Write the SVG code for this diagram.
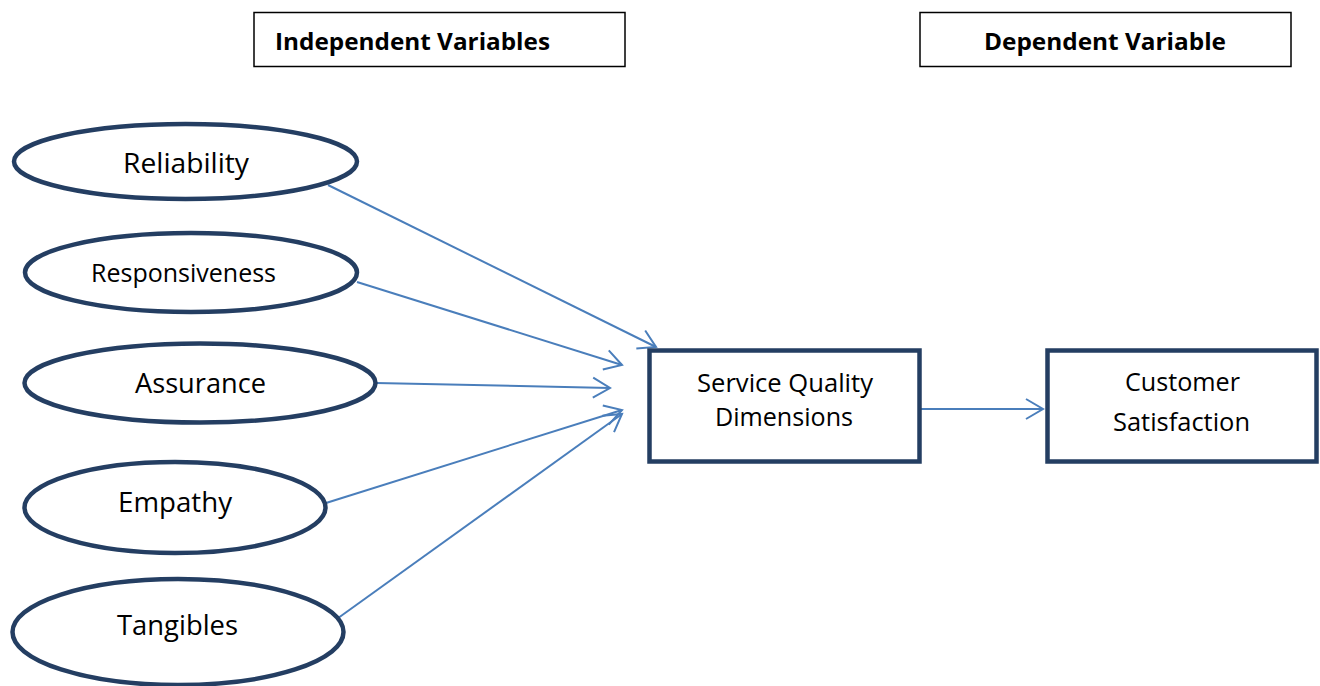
<svg xmlns="http://www.w3.org/2000/svg" width="1320" height="686" viewBox="0 0 1320 686">
  <style>
    .oval { fill: #ffffff; stroke: #243e62; stroke-width: 4.5; }
    .box { fill: #ffffff; stroke: #243e62; stroke-width: 4.5; }
    .head { fill: #ffffff; stroke: #000000; stroke-width: 1.5; }
    .lbl { font-family: "Open Sans", "Noto Sans", "Liberation Sans", sans-serif; fill: #000000; text-anchor: middle; }
    .hd { font-family: "Open Sans", "Noto Sans", "Liberation Sans", sans-serif; font-weight: bold; fill: #000000; font-size: 23.5px; }
    .link { fill: none; stroke: #4a7ebb; stroke-width: 2; marker-end: url(#open); }
  </style>
  <defs>
    <marker id="open" markerUnits="userSpaceOnUse" viewBox="-20 -12 22 24" refX="0" refY="0" markerWidth="22" markerHeight="24" orient="auto" overflow="visible">
      <path d="M-17,-10 L0,0 L-17,10" fill="none" stroke="#4a7ebb" stroke-width="2"/>
    </marker>
  </defs>
  <rect width="1320" height="686" fill="#ffffff"/>

  <!-- heading boxes -->
  <g id="independent-heading">
    <rect class="head" x="254" y="12.5" width="371" height="54"/>
    <text class="hd" x="275" y="50" textLength="275" lengthAdjust="spacingAndGlyphs">Independent Variables</text>
  </g>
  <g id="dependent-heading">
    <rect class="head" x="920" y="12.5" width="371" height="54"/>
    <text class="hd" x="984" y="50" textLength="242" lengthAdjust="spacingAndGlyphs">Dependent Variable</text>
  </g>

  <!-- connectors -->
  <g id="connectors">
    <line class="link" x1="328" y1="185" x2="656" y2="347"/>
    <line class="link" x1="357" y1="282" x2="622" y2="365"/>
    <line class="link" x1="376" y1="383" x2="610" y2="388"/>
    <line class="link" x1="326" y1="503" x2="622" y2="410"/>
    <line class="link" x1="334" y1="621" x2="622" y2="414"/>
    <line class="link" x1="920" y1="409" x2="1043" y2="409"/>
  </g>

  <!-- dimension ovals -->
  <g id="reliability">
    <ellipse class="oval" cx="185.5" cy="161.5" rx="171.5" ry="37.5"/>
    <text class="lbl" x="186" y="173" font-size="27.5" textLength="126" lengthAdjust="spacingAndGlyphs">Reliability</text>
  </g>
  <g id="responsiveness">
    <ellipse class="oval" cx="191" cy="272.5" rx="166" ry="39.5"/>
    <text class="lbl" x="183.5" y="282" font-size="25" textLength="185" lengthAdjust="spacingAndGlyphs">Responsiveness</text>
  </g>
  <g id="assurance">
    <ellipse class="oval" cx="200" cy="383" rx="175.5" ry="39.5"/>
    <text class="lbl" x="200.5" y="393" font-size="27.5" textLength="131" lengthAdjust="spacingAndGlyphs">Assurance</text>
  </g>
  <g id="empathy">
    <ellipse class="oval" cx="175" cy="507.5" rx="150.5" ry="45.5"/>
    <text class="lbl" x="175" y="512" font-size="27.5" textLength="114" lengthAdjust="spacingAndGlyphs">Empathy</text>
  </g>
  <g id="tangibles">
    <ellipse class="oval" cx="178" cy="632" rx="165.5" ry="53"/>
    <text class="lbl" x="177.5" y="635" font-size="27.5" textLength="121" lengthAdjust="spacingAndGlyphs">Tangibles</text>
  </g>

  <!-- outcome boxes -->
  <g id="service-quality">
    <rect class="box" x="649.5" y="350.5" width="270" height="111"/>
    <text class="lbl" x="785" y="392" font-size="25.5" textLength="176" lengthAdjust="spacingAndGlyphs">Service Quality</text>
    <text class="lbl" x="784" y="426" font-size="25.5" textLength="138" lengthAdjust="spacingAndGlyphs">Dimensions</text>
  </g>
  <g id="customer-satisfaction">
    <rect class="box" x="1047.5" y="350.5" width="269" height="111"/>
    <text class="lbl" x="1182.5" y="391" font-size="25.5" textLength="115" lengthAdjust="spacingAndGlyphs">Customer</text>
    <text class="lbl" x="1181.5" y="431" font-size="25.5" textLength="137" lengthAdjust="spacingAndGlyphs">Satisfaction</text>
  </g>
</svg>
